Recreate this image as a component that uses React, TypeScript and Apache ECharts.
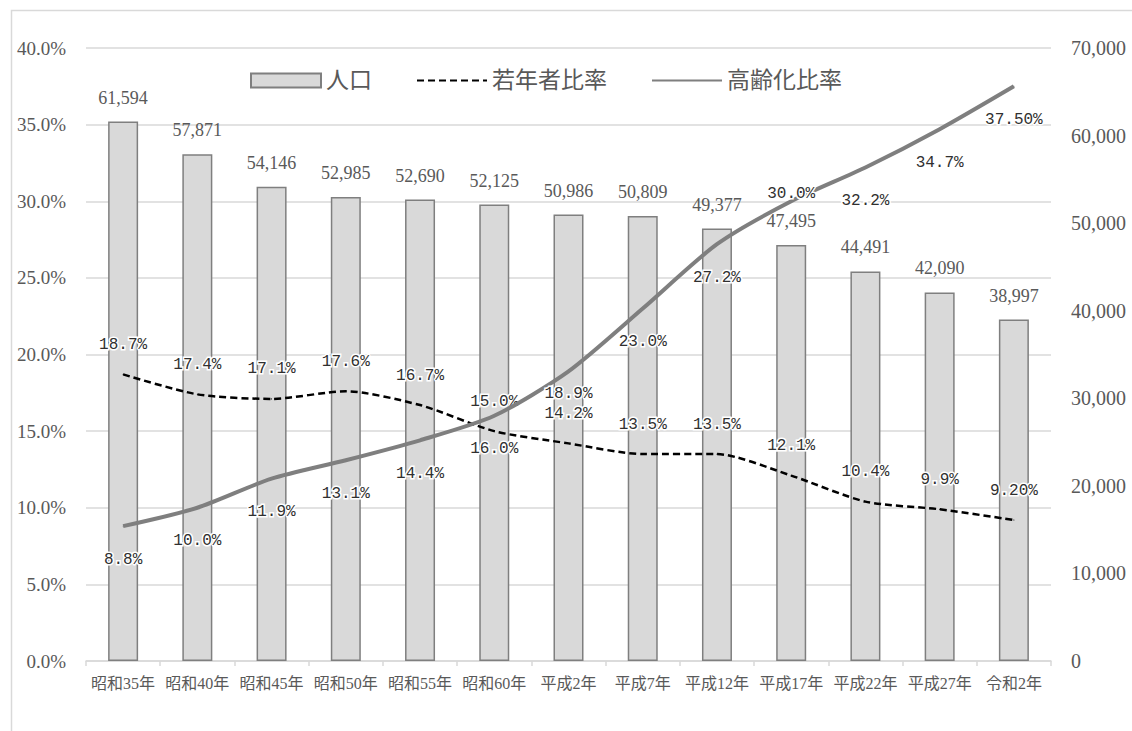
import React, { useEffect, useRef } from "react";
import * as echarts from "echarts";

const categories = ["昭和35年", "昭和40年", "昭和45年", "昭和50年", "昭和55年", "昭和60年", "平成2年", "平成7年", "平成12年", "平成17年", "平成22年", "平成27年", "令和2年"];
const population = [61594, 57871, 54146, 52985, 52690, 52125, 50986, 50809, 49377, 47495, 44491, 42090, 38997];
const youthRatio = [18.7, 17.4, 17.1, 17.6, 16.7, 15.0, 14.2, 13.5, 13.5, 12.1, 10.4, 9.9, 9.2];
const agingRatio = [8.8, 10.0, 11.9, 13.1, 14.4, 16.0, 18.9, 23.0, 27.2, 30.0, 32.2, 34.7, 37.5];
const seriesNames = ["人口", "若年者比率", "高齢化比率"];

const SERIF = "'Liberation Serif', 'Noto Sans CJK JP', serif";
const MONO = "'Liberation Mono', 'DejaVu Sans Mono', monospace";

export default function App() {
  const ref = useRef<HTMLDivElement>(null);
  useEffect(() => {
    document.body.style.margin = "0";
    const chart = echarts.init(ref.current!, null, { renderer: "svg" });
    const last = categories.length - 1;
    const pctFmt = (p: any) => {
      const v = Array.isArray(p.value) ? p.value[1] : p.value;
      return p.dataIndex === last ? v.toFixed(2) + "%" : v.toFixed(1) + "%";
    };
    const lineLabel = {
      show: true,
      fontFamily: MONO,
      fontSize: 16,
      color: "#303030",
      textBorderColor: "#ffffff",
      textBorderWidth: 3,
      formatter: pctFmt,
    };
    const agingData = agingRatio.map((v, i) => {
      if (i === 6) return { value: v, label: { distance: 14 } };
      if (i === 9) return { value: v, label: { position: "top", distance: -1 } };
      return v;
    });
    chart.setOption({
      animation: false,
      backgroundColor: "#ffffff",
      graphic: [
        {
          type: "rect",
          shape: { x: 11.5, y: 10.5, width: 1200, height: 800 },
          style: { fill: "none", stroke: "#d9d9d9", lineWidth: 1.5 },
          silent: true,
          z: -10,
        },
      ],
      grid: { left: 86, right: 81, top: 48, bottom: 70 },
      legend: {
        data: [
          { name: seriesNames[0], icon: "rect" },
          { name: seriesNames[1], itemStyle: { opacity: 0 } },
          { name: seriesNames[2], itemStyle: { opacity: 0 } },
        ],
        left: 245,
        top: 64,
        itemWidth: 70,
        itemHeight: 14,
        itemGap: 44,
        textStyle: { fontFamily: SERIF, fontSize: 23, color: "#595959" },
      },
      xAxis: {
        type: "category",
        data: categories,
        axisLine: { lineStyle: { color: "#d9d9d9", width: 1.5 } },
        axisTick: { show: true, length: 5, lineStyle: { color: "#d9d9d9", width: 1.5 } },
        axisLabel: { interval: 0, fontFamily: SERIF, fontSize: 16, color: "#595959", margin: 14 },
      },
      yAxis: [
        {
          type: "value",
          min: 0,
          max: 40,
          interval: 5,
          axisLine: { show: false },
          axisTick: { show: false },
          splitLine: { lineStyle: { color: "#d9d9d9", width: 1.5 } },
          axisLabel: {
            fontFamily: SERIF,
            fontSize: 19,
            color: "#595959",
            margin: 20,
            formatter: (v: number) => v.toFixed(1) + "%",
          },
        },
        {
          type: "value",
          min: 0,
          max: 70000,
          interval: 10000,
          axisLine: { show: false },
          axisTick: { show: false },
          splitLine: { show: false },
          axisLabel: {
            fontFamily: SERIF,
            fontSize: 20,
            color: "#595959",
            margin: 20,
            formatter: (v: number) => v.toLocaleString("en-US"),
          },
        },
      ],
      series: [
        {
          name: seriesNames[0],
          type: "bar",
          yAxisIndex: 1,
          data: population,
          barWidth: 30,
          itemStyle: { color: "#d9d9d9", borderColor: "#7f7f7f", borderWidth: 1.5 },
          label: {
            show: true,
            position: "top",
            distance: 15,
            fontFamily: SERIF,
            fontSize: 18,
            color: "#595959",
            formatter: (p: any) => p.value.toLocaleString("en-US"),
          },
          z: 1,
        },
        {
          name: seriesNames[1],
          type: "line",
          yAxisIndex: 0,
          data: youthRatio,
          smooth: 0.25,
          symbol: "circle",
          symbolSize: 1,
          itemStyle: { color: "#000000" },
          lineStyle: { color: "#000000", width: 2.5, type: [7, 4] },
          label: { ...lineLabel, position: "top", distance: 21 },
          z: 3,
        },
        {
          name: seriesNames[2],
          type: "line",
          yAxisIndex: 0,
          data: agingData,
          smooth: 0.25,
          symbol: "circle",
          symbolSize: 1,
          itemStyle: { color: "#7f7f7f" },
          lineStyle: { color: "#7f7f7f", width: 4 },
          label: { ...lineLabel, position: "bottom", distance: 25 },
          z: 4,
        },
      ],
    });
    return () => chart.dispose();
  }, []);
  return <div ref={ref} style={{ position: "absolute", left: 0, top: 0, width: 1132, height: 731 }} />;
}
